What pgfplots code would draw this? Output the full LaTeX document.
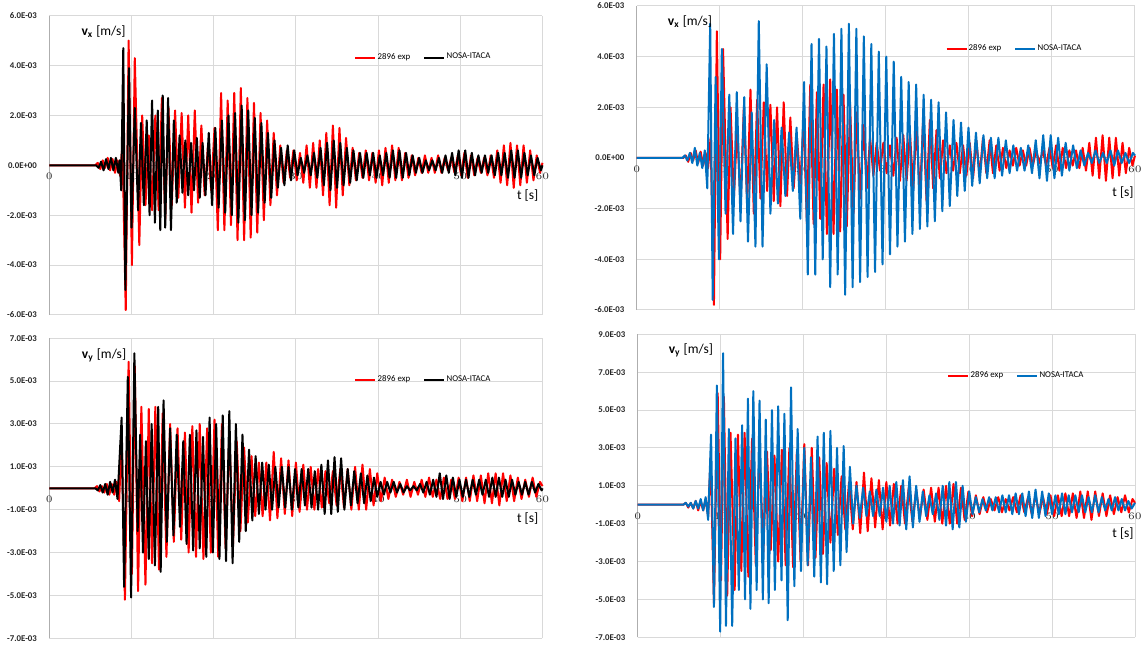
\documentclass[border=0pt]{standalone}
\usepackage{fontspec}
\setmainfont{Carlito}
\usepackage{pgfplots}
\usepackage{pgfplotstable}
\pgfplotsset{compat=1.18}
\definecolor{exred}{RGB}{255,0,0}
\definecolor{nblue}{RGB}{0,112,192}
\definecolor{gridc}{RGB}{217,217,217}

% ---------- data (velocities in 1E-03 m/s) ----------
\pgfplotstableread[row sep=\\]{
t v\\ 0 0\\ 5.6 0\\ 5.9 0.1\\ 6.2 -0.15\\ 6.5 0.2\\ 6.8 -0.1\\ 7.1 0.3\\ 7.4 -0.2\\ 7.7 0.25\\ 8.0 -0.3\\ 8.3 0.2\\ 8.6 -0.4\\ 8.9 0.8\\
9.3 -5.8\\ 9.65 5.0\\ 10.05 -4.0\\ 10.4 4.3\\ 10.95 -3.2\\ 11.3 2.0\\ 11.7 -1.6\\ 12.1 1.2\\ 12.5 -1.8\\ 12.9 2.0\\ 13.3 -1.8\\ 13.7 2.7\\ 14.1 -2.2\\ 14.5 2.3\\ 14.9 -1.6\\
15.3 2.2\\ 15.7 -1.3\\ 16.1 2.1\\ 16.5 -1.7\\ 16.9 2.0\\ 17.3 -1.9\\ 17.7 2.2\\ 18.1 -1.5\\ 18.5 1.6\\ 18.9 -1.2\\ 19.3 0.8\\ 19.7 -1.0\\ 20.1 1.5\\ 20.5 -2.6\\
20.9 2.9\\ 21.3 -2.6\\ 21.7 2.6\\ 22.1 -2.4\\ 22.5 2.9\\ 22.9 -3.0\\ 23.3 3.1\\ 23.7 -3.0\\ 24.1 2.7\\ 24.5 -2.9\\ 24.9 2.5\\ 25.3 -2.7\\ 25.7 2.1\\ 26.1 -2.2\\
26.5 1.8\\ 26.9 -1.6\\ 27.3 1.3\\ 27.7 -1.2\\ 28.1 0.8\\ 28.5 -0.7\\ 28.9 0.6\\ 29.3 -0.5\\ 29.7 0.6\\ 30.1 -0.6\\ 30.5 0.5\\ 30.9 -0.7\\ 31.3 0.8\\ 31.7 -0.9\\
32.1 0.9\\ 32.5 -0.9\\ 32.9 1.0\\ 33.3 -1.2\\ 33.7 1.3\\ 34.1 -1.6\\ 34.5 1.6\\ 34.9 -1.7\\ 35.3 1.5\\ 35.7 -1.2\\ 36.1 1.1\\ 36.5 -0.8\\ 36.9 0.7\\ 37.3 -0.6\\
37.7 0.5\\ 38.1 -0.5\\ 38.5 0.6\\ 38.9 -0.6\\ 39.3 0.5\\ 39.7 -0.7\\ 40.1 0.6\\ 40.5 -0.8\\ 40.9 0.7\\ 41.3 -0.7\\ 41.7 0.8\\ 42.1 -0.6\\ 42.5 0.7\\ 42.9 -0.6\\
43.3 0.5\\ 43.7 -0.5\\ 44.1 0.4\\ 44.5 -0.4\\ 44.9 0.3\\ 45.3 -0.3\\ 45.7 0.4\\ 46.1 -0.3\\ 46.5 0.3\\ 46.9 -0.3\\ 47.3 0.4\\ 47.7 -0.3\\ 48.1 0.3\\ 48.5 -0.2\\
48.9 0.3\\ 49.3 -0.3\\ 49.7 0.4\\ 50.1 -0.4\\ 50.5 0.5\\ 50.9 -0.5\\ 51.3 0.4\\ 51.7 -0.4\\ 52.1 0.3\\ 52.5 -0.3\\ 52.9 0.3\\ 53.3 -0.4\\ 53.7 0.4\\ 54.1 -0.5\\
54.5 0.6\\ 54.9 -0.7\\ 55.3 0.8\\ 55.7 -0.8\\ 56.1 0.9\\ 56.5 -0.9\\ 56.9 0.8\\ 57.3 -0.8\\ 57.7 0.8\\ 58.1 -0.7\\ 58.5 0.6\\ 58.9 -0.6\\ 59.3 0.4\\ 59.7 -0.3\\ 60 0.1\\
}\expvx

\pgfplotstableread[row sep=\\]{
t v\\ 0 0\\ 5.7 0\\ 6.0 -0.1\\ 6.3 0.15\\ 6.6 -0.2\\ 6.9 0.25\\ 7.2 -0.15\\ 7.5 0.3\\ 7.8 -0.2\\ 8.1 0.3\\ 8.4 -0.3\\ 8.55 0.2\\ 8.75 -1.0\\
9.0 4.7\\ 9.25 -5.0\\ 9.7 3.9\\ 10.0 -2.5\\ 10.4 2.3\\ 10.8 -1.8\\ 11.15 1.7\\ 11.5 -1.6\\ 11.85 1.8\\ 12.2 -2.0\\ 12.5 2.6\\ 12.85 -2.3\\ 13.2 2.2\\ 13.5 -2.6\\
13.8 2.8\\ 14.1 -2.5\\ 14.45 2.7\\ 14.8 -2.6\\ 15.15 1.8\\ 15.5 -1.5\\ 15.85 1.2\\ 16.2 -1.1\\ 16.55 1.0\\ 16.9 -1.2\\ 17.25 0.9\\ 17.6 -1.0\\ 17.95 1.1\\ 18.3 -1.3\\
18.65 0.9\\ 19.0 -1.2\\ 19.4 1.3\\ 19.8 -1.6\\ 20.2 1.5\\ 20.6 -1.7\\ 21.0 1.8\\ 21.4 -1.9\\ 21.8 2.0\\ 22.2 -2.0\\ 22.6 2.1\\ 23.0 -2.3\\ 23.4 2.4\\ 23.8 -2.2\\
24.2 2.2\\ 24.6 -2.0\\ 25.0 1.9\\ 25.4 -1.9\\ 25.8 1.7\\ 26.2 -1.5\\ 26.6 1.3\\ 27.0 -1.3\\ 27.4 1.0\\ 27.8 -0.9\\ 28.2 0.7\\ 28.6 -0.8\\ 29.0 0.8\\ 29.4 -0.6\\
29.8 0.6\\ 30.2 -0.4\\ 30.6 0.3\\ 31.0 -0.3\\ 31.4 0.4\\ 31.8 -0.4\\ 32.2 0.5\\ 32.6 -0.5\\ 33.0 0.7\\ 33.4 -0.8\\ 33.8 0.9\\ 34.2 -1.0\\ 34.6 1.0\\ 35.0 -0.9\\
35.4 0.9\\ 35.8 -0.8\\ 36.2 0.7\\ 36.6 -0.7\\ 37.0 0.6\\ 37.4 -0.6\\ 37.8 0.5\\ 38.2 -0.5\\ 38.6 0.5\\ 39.0 -0.4\\ 39.4 0.5\\ 39.8 -0.5\\ 40.2 0.4\\ 40.6 -0.4\\
41.0 0.5\\ 41.4 -0.5\\ 41.8 0.6\\ 42.2 -0.5\\ 42.6 0.6\\ 43.0 -0.5\\ 43.4 0.5\\ 43.8 -0.4\\ 44.2 0.4\\ 44.6 -0.3\\ 45.0 0.3\\ 45.4 -0.3\\ 45.8 0.2\\ 46.2 -0.2\\
46.6 0.2\\ 47.0 -0.2\\ 47.4 0.3\\ 47.8 -0.3\\ 48.2 0.4\\ 48.6 -0.3\\ 49.0 0.5\\ 49.4 -0.4\\ 49.8 0.6\\ 50.2 -0.5\\ 50.6 0.6\\ 51.0 -0.5\\ 51.4 0.5\\ 51.8 -0.4\\
52.2 0.4\\ 52.6 -0.3\\ 53.0 0.4\\ 53.4 -0.3\\ 53.8 0.4\\ 54.2 -0.4\\ 54.6 0.5\\ 55.0 -0.4\\ 55.4 0.5\\ 55.8 -0.5\\ 56.2 0.6\\ 56.6 -0.5\\ 57.0 0.6\\ 57.4 -0.5\\
57.8 0.5\\ 58.2 -0.4\\ 58.6 0.4\\ 59.0 -0.4\\ 59.4 0.3\\ 59.8 -0.2\\ 60 0\\
}\nosavxA

\pgfplotstableread[row sep=\\]{
t v\\ 0 0\\ 5.5 0\\ 5.8 0.1\\ 6.1 -0.1\\ 6.4 0.2\\ 6.7 -0.2\\ 7.0 0.4\\ 7.3 -0.3\\ 7.6 0.2\\ 7.9 -0.4\\ 8.2 0.3\\ 8.5 -1.2\\ 8.85 5.3\\ 9.15 -5.6\\
9.5 3.2\\ 9.9 -4.0\\ 10.25 4.3\\ 10.7 -2.2\\ 11.15 2.5\\ 11.6 -3.0\\ 12.05 2.6\\ 12.5 -2.5\\ 12.95 2.4\\ 13.4 -3.3\\ 13.85 1.8\\ 14.3 -3.5\\ 14.7 5.4\\ 15.15 -3.5\\
15.65 3.7\\ 16.1 -2.2\\ 16.55 1.5\\ 17.0 -1.8\\ 17.45 1.2\\ 17.9 -1.5\\ 18.35 1.0\\ 18.8 -1.3\\ 19.25 1.2\\ 19.7 -2.4\\ 20.15 3.0\\ 20.6 -4.6\\ 21.05 4.5\\ 21.5 -4.6\\
21.95 4.7\\ 22.4 -4.0\\ 22.85 4.4\\ 23.3 -5.1\\ 23.75 4.9\\ 24.2 -4.6\\ 24.65 5.1\\ 25.1 -5.4\\ 25.55 5.3\\ 26.0 -5.1\\ 26.45 5.1\\ 26.9 -4.9\\ 27.35 4.8\\ 27.8 -4.7\\
28.25 4.5\\ 28.7 -4.5\\ 29.15 4.2\\ 29.6 -4.2\\ 30.05 4.0\\ 30.5 -3.8\\ 30.95 3.8\\ 31.4 -3.5\\ 31.85 3.2\\ 32.3 -3.3\\ 32.75 3.0\\ 33.2 -3.0\\ 33.65 2.9\\ 34.1 -2.8\\
34.55 2.5\\ 35.0 -2.7\\ 35.45 2.3\\ 35.9 -2.5\\ 36.35 2.2\\ 36.8 -2.1\\ 37.25 1.8\\ 37.7 -1.9\\ 38.15 1.5\\ 38.6 -1.5\\ 39.05 1.4\\ 39.5 -1.3\\ 39.95 1.2\\ 40.4 -1.1\\
40.85 1.0\\ 41.3 -1.0\\ 41.75 0.9\\ 42.2 -0.8\\ 42.65 0.8\\ 43.1 -0.8\\ 43.55 0.8\\ 44.0 -0.7\\ 44.45 0.7\\ 44.9 -0.6\\ 45.35 0.5\\ 45.8 -0.5\\ 46.25 0.4\\ 46.7 -0.5\\
47.15 0.5\\ 47.6 -0.6\\ 48.05 0.7\\ 48.5 -0.8\\ 48.95 0.9\\ 49.4 -0.9\\ 49.85 0.9\\ 50.3 -0.8\\ 50.75 0.8\\ 51.2 -0.7\\ 51.65 0.6\\ 52.1 -0.5\\ 52.55 0.5\\ 53.0 -0.4\\
53.45 0.3\\ 53.9 -0.3\\ 54.35 0.2\\ 54.8 -0.2\\ 55.25 0.3\\ 55.7 -0.2\\ 56.15 0.2\\ 56.6 -0.2\\ 57.05 0.3\\ 57.5 -0.3\\ 57.95 0.3\\ 58.4 -0.2\\ 58.85 0.2\\ 59.3 -0.2\\
59.75 0.2\\ 60 0.1\\
}\nosavxB

\pgfplotstableread[row sep=\\]{
t v\\ 0 0\\ 5.5 0\\ 5.8 0.1\\ 6.1 -0.15\\ 6.4 0.1\\ 6.7 -0.2\\ 7.0 0.2\\ 7.3 -0.3\\ 7.6 0.2\\ 7.9 -0.3\\ 8.2 0.3\\ 8.5 -0.6\\ 8.8 2.5\\ 9.2 -5.2\\
9.65 5.9\\ 10.05 -4.0\\ 10.4 5.7\\ 10.8 -4.8\\ 11.2 3.8\\ 11.7 -4.5\\ 12.1 3.7\\ 12.5 -3.5\\ 12.9 3.8\\ 13.35 -3.8\\ 13.8 3.5\\ 14.25 -3.2\\ 14.7 3.0\\ 15.15 -2.5\\
15.6 2.8\\ 16.05 -2.4\\ 16.5 2.6\\ 16.95 -3.0\\ 17.4 2.9\\ 17.85 -3.2\\ 18.3 3.0\\ 18.75 -3.3\\ 19.2 2.8\\ 19.65 -3.0\\ 20.1 3.2\\ 20.55 -3.2\\ 21.0 3.0\\ 21.45 -2.8\\
21.9 2.5\\ 22.35 -2.6\\ 22.8 2.2\\ 23.25 -2.0\\ 23.7 1.9\\ 24.15 -1.6\\ 24.6 1.5\\ 25.05 -1.3\\ 25.5 1.2\\ 25.95 -1.3\\ 26.4 1.2\\ 26.85 -1.5\\ 27.3 1.7\\ 27.75 -1.4\\
28.2 1.4\\ 28.65 -1.2\\ 29.1 1.3\\ 29.55 -1.3\\ 30.0 1.2\\ 30.45 -1.1\\ 30.9 1.1\\ 31.35 -1.0\\ 31.8 1.0\\ 32.25 -1.0\\ 32.7 0.9\\ 33.15 -0.9\\ 33.6 0.8\\ 34.05 -0.7\\
34.5 0.8\\ 34.95 -0.8\\ 35.4 0.9\\ 35.85 -0.9\\ 36.3 0.9\\ 36.75 -1.0\\ 37.2 1.0\\ 37.65 -1.0\\ 38.1 1.1\\ 38.55 -1.0\\ 39.0 0.9\\ 39.45 -0.8\\ 39.9 0.7\\ 40.35 -0.6\\
40.8 0.5\\ 41.25 -0.5\\ 41.7 0.4\\ 42.15 -0.4\\ 42.6 0.3\\ 43.05 -0.3\\ 43.5 0.4\\ 43.95 -0.4\\ 44.4 0.3\\ 44.85 -0.3\\ 45.3 0.4\\ 45.75 -0.4\\ 46.2 0.5\\ 46.65 -0.4\\
47.1 0.4\\ 47.55 -0.5\\ 48.0 0.5\\ 48.45 -0.5\\ 48.9 0.4\\ 49.35 -0.5\\ 49.8 0.5\\ 50.25 -0.6\\ 50.7 0.5\\ 51.15 -0.6\\ 51.6 0.6\\ 52.05 -0.6\\ 52.5 0.6\\ 52.95 -0.7\\
53.4 0.7\\ 53.85 -0.7\\ 54.3 0.7\\ 54.75 -0.8\\ 55.2 0.7\\ 55.65 -0.6\\ 56.1 0.6\\ 56.55 -0.6\\ 57.0 0.5\\ 57.45 -0.5\\ 57.9 0.4\\ 58.35 -0.4\\ 58.8 0.5\\ 59.25 -0.4\\
59.7 0.3\\ 60 0.1\\
}\expvy

\pgfplotstableread[row sep=\\]{
t v\\ 0 0\\ 5.6 0\\ 5.9 -0.1\\ 6.2 0.15\\ 6.5 -0.2\\ 6.8 0.2\\ 7.1 -0.3\\ 7.4 0.3\\ 7.7 -0.2\\ 8.0 0.4\\ 8.3 -0.5\\ 8.8 3.3\\ 9.1 -4.6\\ 9.55 5.2\\
9.95 -5.1\\ 10.35 6.3\\ 10.75 -2.0\\ 11.05 2.5\\ 11.4 -3.0\\ 11.75 2.2\\ 12.1 -3.3\\ 12.45 3.0\\ 12.85 -3.6\\ 13.25 3.8\\ 13.55 -3.9\\ 13.9 4.1\\ 14.3 -2.5\\ 14.7 2.8\\
15.1 -2.2\\ 15.5 2.5\\ 15.9 -1.8\\ 16.3 2.2\\ 16.7 -2.6\\ 17.1 2.5\\ 17.5 -2.9\\ 17.9 2.7\\ 18.3 -2.8\\ 18.7 2.4\\ 19.1 -3.2\\ 19.5 3.3\\ 19.9 -3.0\\ 20.3 3.0\\
20.7 -3.3\\ 21.1 3.4\\ 21.5 -3.4\\ 21.9 3.6\\ 22.3 -3.5\\ 22.7 3.0\\ 23.1 -2.5\\ 23.5 2.5\\ 23.9 -2.0\\ 24.3 1.8\\ 24.7 -1.5\\ 25.1 1.5\\ 25.5 -1.2\\ 25.9 1.2\\
26.3 -1.0\\ 26.7 1.1\\ 27.1 -1.0\\ 27.5 1.0\\ 27.9 -0.9\\ 28.3 1.0\\ 28.7 -0.9\\ 29.1 1.0\\ 29.5 -1.0\\ 29.9 0.9\\ 30.3 -0.9\\ 30.7 0.9\\ 31.1 -0.8\\ 31.5 0.9\\
31.9 -0.9\\ 32.3 0.8\\ 32.7 -1.0\\ 33.1 1.1\\ 33.5 -1.2\\ 33.9 1.3\\ 34.3 -1.2\\ 34.7 1.45\\ 35.1 -1.1\\ 35.5 1.4\\ 35.9 -1.0\\ 36.3 0.9\\ 36.7 -0.8\\ 37.1 0.8\\
37.5 -0.7\\ 37.9 0.7\\ 38.3 -0.7\\ 38.7 0.6\\ 39.1 -0.6\\ 39.5 0.5\\ 39.9 -0.4\\ 40.3 0.3\\ 40.7 -0.3\\ 41.1 0.3\\ 41.5 -0.2\\ 41.9 0.3\\ 42.3 -0.2\\ 42.7 0.2\\
43.1 -0.2\\ 43.5 0.1\\ 43.9 -0.1\\ 44.3 0.1\\ 44.7 -0.1\\ 45.1 0.2\\ 45.5 -0.2\\ 45.9 0.3\\ 46.3 -0.3\\ 46.7 0.4\\ 47.1 -0.4\\ 47.5 0.7\\ 47.9 -0.5\\ 48.3 0.6\\
48.7 -0.5\\ 49.1 0.5\\ 49.5 -0.4\\ 49.9 0.4\\ 50.3 -0.4\\ 50.7 0.4\\ 51.1 -0.4\\ 51.5 0.4\\ 51.9 -0.3\\ 52.3 0.4\\ 52.7 -0.3\\ 53.1 0.4\\ 53.5 -0.4\\ 53.9 0.5\\
54.3 -0.4\\ 54.7 0.5\\ 55.1 -0.4\\ 55.5 0.4\\ 55.9 -0.4\\ 56.3 0.4\\ 56.7 -0.3\\ 57.1 0.3\\ 57.5 -0.3\\ 57.9 0.3\\ 58.3 -0.3\\ 58.7 0.3\\ 59.1 -0.2\\ 59.5 0.2\\
59.9 -0.1\\ 60 0\\
}\nosavyA

\pgfplotstableread[row sep=\\]{
t v\\ 0 0\\ 5.5 0\\ 5.8 0.1\\ 6.1 -0.1\\ 6.4 0.1\\ 6.7 -0.2\\ 7.0 0.2\\ 7.3 -0.2\\ 7.6 0.3\\ 7.9 -0.3\\ 8.2 0.4\\ 8.5 -0.8\\ 8.85 3.7\\ 9.2 -5.4\\
9.55 6.3\\ 9.95 -6.7\\ 10.3 8.0\\ 10.65 -6.4\\ 11.0 4.0\\ 11.4 -6.4\\ 11.8 3.5\\ 12.2 -4.5\\ 12.6 4.2\\ 12.95 -5.0\\ 13.3 5.6\\ 13.6 -5.5\\ 13.95 6.0\\ 14.35 -4.5\\
14.7 5.5\\ 15.1 -5.0\\ 15.45 4.5\\ 15.8 -5.2\\ 16.2 5.0\\ 16.55 -4.5\\ 16.95 5.2\\ 17.35 -4.0\\ 17.7 4.8\\ 18.1 -6.1\\ 18.5 6.2\\ 18.9 -4.3\\ 19.3 4.0\\ 19.7 -3.5\\
20.1 3.0\\ 20.5 -3.2\\ 20.9 2.5\\ 21.3 -3.8\\ 21.7 3.6\\ 22.1 -4.1\\ 22.45 3.8\\ 22.85 -4.2\\ 23.25 3.9\\ 23.65 -3.5\\ 24.05 3.0\\ 24.45 -3.2\\ 24.85 3.1\\ 25.2 -2.5\\
25.6 2.0\\ 26.0 -1.0\\ 26.4 1.0\\ 26.8 -0.7\\ 27.2 0.9\\ 27.6 -0.6\\ 28.0 0.7\\ 28.4 -0.6\\ 28.8 0.8\\ 29.2 -0.6\\ 29.6 0.9\\ 30.0 -0.9\\ 30.4 1.0\\ 30.8 -1.0\\
31.2 1.2\\ 31.6 -1.1\\ 32.0 1.3\\ 32.4 -1.3\\ 32.8 1.5\\ 33.2 -1.2\\ 33.6 1.0\\ 34.0 -0.9\\ 34.4 0.7\\ 34.8 -0.6\\ 35.2 0.5\\ 35.6 -0.5\\ 36.0 0.6\\ 36.4 -0.8\\
36.8 1.0\\ 37.2 -1.1\\ 37.6 1.2\\ 38.0 -1.3\\ 38.4 1.2\\ 38.8 -1.2\\ 39.2 1.0\\ 39.6 -0.9\\ 40.0 0.7\\ 40.4 -0.5\\ 40.8 0.4\\ 41.2 -0.4\\ 41.6 0.3\\ 42.0 -0.3\\
42.4 0.4\\ 42.8 -0.3\\ 43.2 0.4\\ 43.6 -0.4\\ 44.0 0.5\\ 44.4 -0.4\\ 44.8 0.5\\ 45.2 -0.5\\ 45.6 0.6\\ 46.0 -0.5\\ 46.4 0.6\\ 46.8 -0.6\\ 47.2 0.7\\ 47.6 -0.7\\
48.0 0.8\\ 48.4 -0.7\\ 48.8 0.7\\ 49.2 -0.6\\ 49.6 0.6\\ 50.0 -0.5\\ 50.4 0.5\\ 50.8 -0.5\\ 51.2 0.6\\ 51.6 -0.5\\ 52.0 0.5\\ 52.4 -0.4\\ 52.8 0.5\\ 53.2 -0.4\\
53.6 0.5\\ 54.0 -0.4\\ 54.4 0.4\\ 54.8 -0.4\\ 55.2 0.5\\ 55.6 -0.4\\ 56.0 0.4\\ 56.4 -0.3\\ 56.8 0.3\\ 57.2 -0.3\\ 57.6 0.4\\ 58.0 -0.3\\ 58.4 0.3\\ 58.8 -0.3\\
59.2 0.2\\ 59.6 -0.2\\ 60 0.1\\
}\nosavyB

\pgfplotsset{
  panel/.style={
    scale only axis,
    axis x line*=middle, axis y line*=left,
    hide obscured x ticks=false, hide obscured y ticks=false,
    xmin=0, xmax=60, xtick={0,10,20,30,40,50,60},
    major tick length=0pt,
    grid=major, grid style={gridc, line width=0.5pt},
    axis line style={draw=gridc!80!black, line width=0.5pt},
    ticklabel style={font=\fontsize{4.4}{5}\selectfont\bfseries, text=black!85},
    yticklabel style={anchor=east, inner sep=0pt, xshift=-6pt},
    xticklabel style={anchor=north, inner sep=0pt, yshift=-3.8pt},
    legend columns=2,
    legend image code/.code={\draw[##1, line width=1pt] (0pt,0pt) -- (10pt,0pt);},
    legend style={draw=none, fill=none, anchor=west, inner sep=0pt,
      font=\fontsize{4.4}{5}\selectfont,
      nodes={inner sep=0.6pt},
      /tikz/every even column/.append style={column sep=6pt}},
    every axis plot/.append style={line width=1pt, line join=round},
    clip=false,
  },
  vxticks/.style={ymin=-6, ymax=6, ytick={-6,-4,-2,0,2,4,6},
    yticklabels={-6.0E-03,-4.0E-03,-2.0E-03,0.0E+00,2.0E-03,4.0E-03,6.0E-03}},
}
\newcommand{\axlab}[1]{\fontsize{6.75}{8}\selectfont\textbf{v}\textsubscript{\textbf{#1}} [m/s]}
\newcommand{\tlab}{\fontsize{6.75}{8}\selectfont t [s]}

\begin{document}
\begin{tikzpicture}
\path[use as bounding box] (0,0) rectangle (571pt,323pt);

% ---- top left ----
\begin{axis}[panel, vxticks, at={(24.65pt,165.5pt)}, anchor=south west,
  width=246.6pt, height=149.65pt,
  legend style={at={(0.618,0.86)}}]
\addplot[exred] table[x=t,y=v] {\expvx};
\addplot[black] table[x=t,y=v] {\nosavxA};
\legend{2896 exp, NOSA-ITACA}
\node at (rel axis cs:0.11,0.946) {\axlab{x}};
\node at (rel axis cs:0.97,0.398) {\tlab};
\end{axis}

% ---- top right ----
\begin{axis}[panel, vxticks, at={(318.35pt,168pt)}, anchor=south west,
  width=249.15pt, height=152pt,
  legend style={at={(0.619,0.859)}}]
\addplot[exred] table[x=t,y=v] {\expvx};
\addplot[nblue] table[x=t,y=v] {\nosavxB};
\legend{2896 exp, NOSA-ITACA}
\node at (rel axis cs:0.107,0.947) {\axlab{x}};
\node at (rel axis cs:0.976,0.385) {\tlab};
\end{axis}

% ---- bottom left ----
\begin{axis}[panel, at={(24.65pt,3.85pt)}, anchor=south west,
  width=246.6pt, height=150pt,
  ymin=-7, ymax=7, ytick={-7,-5,-3,-1,1,3,5,7},
  yticklabels={-7.0E-03,-5.0E-03,-3.0E-03,-1.0E-03,1.0E-03,3.0E-03,5.0E-03,7.0E-03},
  legend style={at={(0.618,0.861)}}]
\addplot[exred] table[x=t,y=v] {\expvy};
\addplot[black] table[x=t,y=v] {\nosavyA};
\legend{2896 exp, NOSA-ITACA}
\node at (rel axis cs:0.111,0.944) {\axlab{y}};
\node at (rel axis cs:0.97,0.398) {\tlab};
\end{axis}

% ---- bottom right ----
\begin{axis}[panel, at={(318.85pt,4.35pt)}, anchor=south west,
  width=248.65pt, height=151.5pt,
  ymin=-7, ymax=9, ytick={-7,-5,-3,-1,1,3,5,7,9},
  yticklabels={-7.0E-03,-5.0E-03,-3.0E-03,-1.0E-03,1.0E-03,3.0E-03,5.0E-03,7.0E-03,9.0E-03},
  legend style={at={(0.622,0.862)}}]
\addplot[exred] table[x=t,y=v] {\expvy};
\addplot[nblue] table[x=t,y=v] {\nosavyB};
\legend{2896 exp, NOSA-ITACA}
\node at (rel axis cs:0.107,0.948) {\axlab{y}};
\node at (rel axis cs:0.976,0.344) {\tlab};
\end{axis}
\end{tikzpicture}
\end{document}
